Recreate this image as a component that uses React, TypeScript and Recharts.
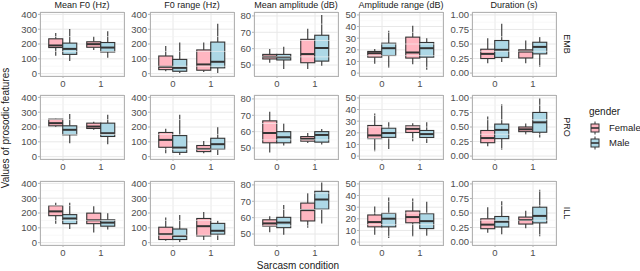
import { ComposedChart, Bar, XAxis, YAxis, CartesianGrid, ReferenceLine } from 'recharts';

const FONT = '"Liberation Sans", Arial, sans-serif';

const conditions = ['0', '1'];
const styles = ['EMB', 'PRO', 'ILL'];
const features = ['Mean F0 (Hz)', 'F0 range (Hz)', 'Mean amplitude (dB)', 'Amplitude range (dB)', 'Duration (s)'];

// box stats [min, q1, median, q3, max]; rows EMB, PRO, ILL; each row = [condition 0, condition 1]
const meanF0Female = [
  [[121, 176, 190, 235, 274], [160, 178, 199, 215, 251]],
  [[201, 208, 226, 253, 255], [181, 190, 203, 226, 235]],
  [[128, 182, 211, 249, 270], [69, 128, 151, 199, 246]],
];
const meanF0Male = [
  [[85, 130, 167, 206, 302], [107, 146, 176, 210, 286]],
  [[90, 147, 181, 208, 287], [84, 136, 158, 226, 282]],
  [[92, 128, 163, 189, 270], [88, 111, 135, 154, 199]],
];
const f0RangeFemale = [
  [[16, 27, 46, 119, 187], [11, 23, 62, 160, 210]],
  [[23, 63, 113, 163, 188], [23, 34, 52, 75, 106]],
  [[12, 21, 57, 104, 170], [17, 45, 111, 163, 206]],
];
const f0RangeMale = [
  [[5, 16, 39, 96, 210], [5, 39, 80, 213, 336]],
  [[11, 29, 61, 142, 282], [11, 50, 84, 124, 199]],
  [[5, 21, 45, 92, 187], [17, 57, 80, 130, 147]],
];
const meanAmpFemale = [
  [[51.4, 53.7, 55.1, 56.5, 59.8], [47.6, 51.4, 56.7, 65.7, 72.2]],
  [[47.2, 53.2, 59.2, 66.6, 72.2], [53, 54.2, 55.6, 57, 59.2]],
  [[51.1, 54.8, 56.5, 58.7, 60.9], [53.9, 58, 64.6, 68.9, 75]],
];
const meanAmpMale = [
  [[47.6, 53.1, 54.7, 56.5, 61.2], [49.6, 52.4, 60.4, 68.2, 80.6]],
  [[51.6, 53.2, 56.6, 60, 65.2], [52.2, 53.6, 58, 60, 61.6]],
  [[49.6, 53.9, 57, 60.2, 67.8], [56.5, 65.2, 71.1, 76.1, 81.5]],
];
const ampRangeFemale = [
  [[8, 13.7, 17.1, 18.6, 20.6], [7.7, 12.9, 17.7, 30.9, 40.6]],
  [[4.2, 15, 17.8, 26.3, 36.7], [12.7, 20.3, 23.4, 26, 28.2]],
  [[6.4, 13.1, 17.2, 23.3, 30.5], [4.9, 16.6, 21.5, 26.7, 37.5]],
];
const ampRangeMale = [
  [[4.3, 15.1, 21.4, 25.7, 36.3], [2.9, 13.7, 21.4, 26.3, 30]],
  [[6.2, 16.1, 19.8, 24, 29.1], [11.3, 16, 18.9, 22, 29.1]],
  [[3.5, 13.1, 20.1, 24.7, 38.4], [5.5, 11.6, 18, 24.4, 34.9]],
];
const durationFemale = [
  [[0.17, 0.25, 0.33, 0.41, 0.6], [0.17, 0.26, 0.37, 0.4, 0.56]],
  [[0.17, 0.23, 0.31, 0.44, 0.68], [0.37, 0.42, 0.46, 0.5, 0.56]],
  [[0.16, 0.23, 0.3, 0.4, 0.6], [0.24, 0.31, 0.38, 0.43, 0.54]],
];
const durationMale = [
  [[0.19, 0.27, 0.4, 0.56, 0.85], [0.11, 0.33, 0.45, 0.53, 0.62]],
  [[0.11, 0.3, 0.45, 0.55, 0.89], [0.32, 0.41, 0.58, 0.75, 0.99]],
  [[0.13, 0.26, 0.35, 0.44, 0.7], [0.1, 0.33, 0.45, 0.6, 0.9]],
];

const f0Ticks = [0, 100, 200, 300, 400];
const f0Minor = [50, 150, 250, 350];
const ampTicks = [50, 60, 70, 80];
const ampMinor = [45, 55, 65, 75];
const rangeTicks = [0, 10, 20, 30, 40, 50];
const rangeMinor = [5, 15, 25, 35, 45];
const durTicks = [0, 0.25, 0.5, 0.75, 1];
const durMinor = [0.125, 0.375, 0.625, 0.875];

const FEMALE = '#FFB6C1';
const MALE = '#ADD8E6';
const INK = '#333333';

const columns = [
  { female: meanF0Female, male: meanF0Male, domain: [-16, 416], ticks: f0Ticks, minor: f0Minor, fmt: (v: number) => String(v) },
  { female: f0RangeFemale, male: f0RangeMale, domain: [-16, 416], ticks: f0Ticks, minor: f0Minor, fmt: (v: number) => String(v) },
  { female: meanAmpFemale, male: meanAmpMale, domain: [43.3, 82.4], ticks: ampTicks, minor: ampMinor, fmt: (v: number) => String(v) },
  { female: ampRangeFemale, male: ampRangeMale, domain: [-2.5, 52.5], ticks: rangeTicks, minor: rangeMinor, fmt: (v: number) => String(v) },
  { female: durationFemale, male: durationMale, domain: [-0.05, 1.05], ticks: durTicks, minor: durMinor, fmt: (v: number) => v.toFixed(2) },
];

const colLeft = [40, 150, 254, 359, 472];
const rowTop = [12, 95, 181];
const PW = 84;
const PH = 64;
const YW = 30;
const XH = 14;
const TOP = 6;

function makeBox(fill: string, key: 'female' | 'male') {
  return (props: any) => {
    const { x, y, width, height, payload } = props;
    const s: number[] = payload[key];
    const top = Math.min(y, y + height);
    const h = Math.abs(height);
    const py = (v: number) => top + (h * (s[4] - v)) / (s[4] - s[0]);
    const cx = x + width / 2;
    return (
      <g>
        <line x1={cx} x2={cx} y1={py(s[4])} y2={py(s[3])} stroke={INK} strokeWidth={1.1} />
        <line x1={cx} x2={cx} y1={py(s[1])} y2={py(s[0])} stroke={INK} strokeWidth={1.1} />
        <rect x={x} y={py(s[3])} width={width} height={py(s[1]) - py(s[3])} fill={fill} stroke={INK} strokeWidth={1.1} />
        <line x1={x} x2={x + width} y1={py(s[2])} y2={py(s[2])} stroke={INK} strokeWidth={2} />
      </g>
    );
  };
}

const femaleBox = makeBox(FEMALE, 'female');
const maleBox = makeBox(MALE, 'male');

function Panel({ col, row }: { col: number; row: number }) {
  const c = columns[col];
  const data = conditions.map((cond, i) => ({
    cond,
    female: c.female[row][i],
    male: c.male[row][i],
  }));
  const tick = { fontSize: 9.5, fill: '#4d4d4d', fontFamily: FONT };
  return (
    <div style={{ position: 'absolute', left: colLeft[col] - YW, top: rowTop[row] - TOP }}>
      <ComposedChart
        width={PW + YW}
        height={PH + XH + TOP}
        data={data}
        margin={{ top: TOP, right: 0, bottom: 0, left: 0 }}
        barGap={0}
        barCategoryGap="12.5%"
      >
        <CartesianGrid stroke="#e8e8e8" strokeWidth={1} />
        {c.minor.map((v) => (
          <ReferenceLine key={v} y={v} stroke="#f4f4f4" strokeWidth={0.6} />
        ))}
        <XAxis
          dataKey="cond"
          type="category"
          padding={{ left: 4, right: 4 }}
          height={XH}
          tick={tick}
          tickSize={2}
          tickMargin={2}
          axisLine={false}
          tickLine={{ stroke: '#b3b3b3' }}
          interval={0}
        />
        <YAxis
          type="number"
          domain={c.domain}
          ticks={c.ticks}
          interval={0}
          allowDataOverflow
          width={YW}
          tick={tick}
          tickSize={2}
          tickMargin={1}
          axisLine={false}
          tickLine={{ stroke: '#b3b3b3' }}
          tickFormatter={c.fmt}
        />
        <Bar dataKey={(d: any) => [d.female[0], d.female[4]]} shape={femaleBox} isAnimationActive={false} />
        <Bar dataKey={(d: any) => [d.male[0], d.male[4]]} shape={maleBox} isAnimationActive={false} />
      </ComposedChart>
      <div
        style={{
          position: 'absolute',
          left: YW - 0.5,
          top: TOP - 0.5,
          width: PW + 1,
          height: PH + 1,
          border: '1px solid #b3b3b3',
          boxSizing: 'border-box',
          pointerEvents: 'none',
        }}
      />
    </div>
  );
}

function LegendKey({ y, fill }: { y: number; fill: string }) {
  return (
    <g>
      <line x1={595} x2={595} y1={y - 6.5} y2={y + 6.5} stroke={INK} strokeWidth={1} />
      <rect x={591} y={y - 4} width={8} height={8} fill={fill} stroke={INK} strokeWidth={1} />
      <line x1={591} x2={599} y1={y} y2={y} stroke={INK} strokeWidth={1.6} />
    </g>
  );
}

export default function App() {
  return (
    <div style={{ position: 'absolute', left: 0, top: 0, width: 640, height: 271, background: '#fff', fontFamily: FONT, overflow: 'hidden' }}>
      {rowTop.map((_, r) => colLeft.map((__, c) => <Panel key={`${r}-${c}`} col={c} row={r} />))}
      <svg width={640} height={271} style={{ position: 'absolute', left: 0, top: 0, pointerEvents: 'none' }}>
        {features.map((f, i) => (
          <text key={f} x={colLeft[i] + PW / 2} y={8} textAnchor="middle" fontSize={9} fill="#1a1a1a" fontFamily={FONT}>
            {f}
          </text>
        ))}
        {styles.map((s, i) => (
          <text
            key={s}
            x={564}
            y={rowTop[i] + PH / 2}
            textAnchor="middle"
            fontSize={9}
            fill="#1a1a1a"
            fontFamily={FONT}
            transform={`rotate(90 564 ${rowTop[i] + PH / 2})`}
          >
            {s}
          </text>
        ))}
        <text x={298} y={269} textAnchor="middle" fontSize={10} fill="#1a1a1a" fontFamily={FONT}>
          Sarcasm condition
        </text>
        <text x={9} y={128} textAnchor="middle" fontSize={10} fill="#1a1a1a" fontFamily={FONT} transform="rotate(-90 9 128)">
          Values of prosodic features
        </text>
        <text x={589} y={115} fontSize={10} fill="#1a1a1a" fontFamily={FONT}>
          gender
        </text>
        <LegendKey y={128} fill={FEMALE} />
        <LegendKey y={143} fill={MALE} />
        <text x={609} y={131} fontSize={9.5} fill="#1a1a1a" fontFamily={FONT}>
          Female
        </text>
        <text x={609} y={146} fontSize={9.5} fill="#1a1a1a" fontFamily={FONT}>
          Male
        </text>
      </svg>
    </div>
  );
}
